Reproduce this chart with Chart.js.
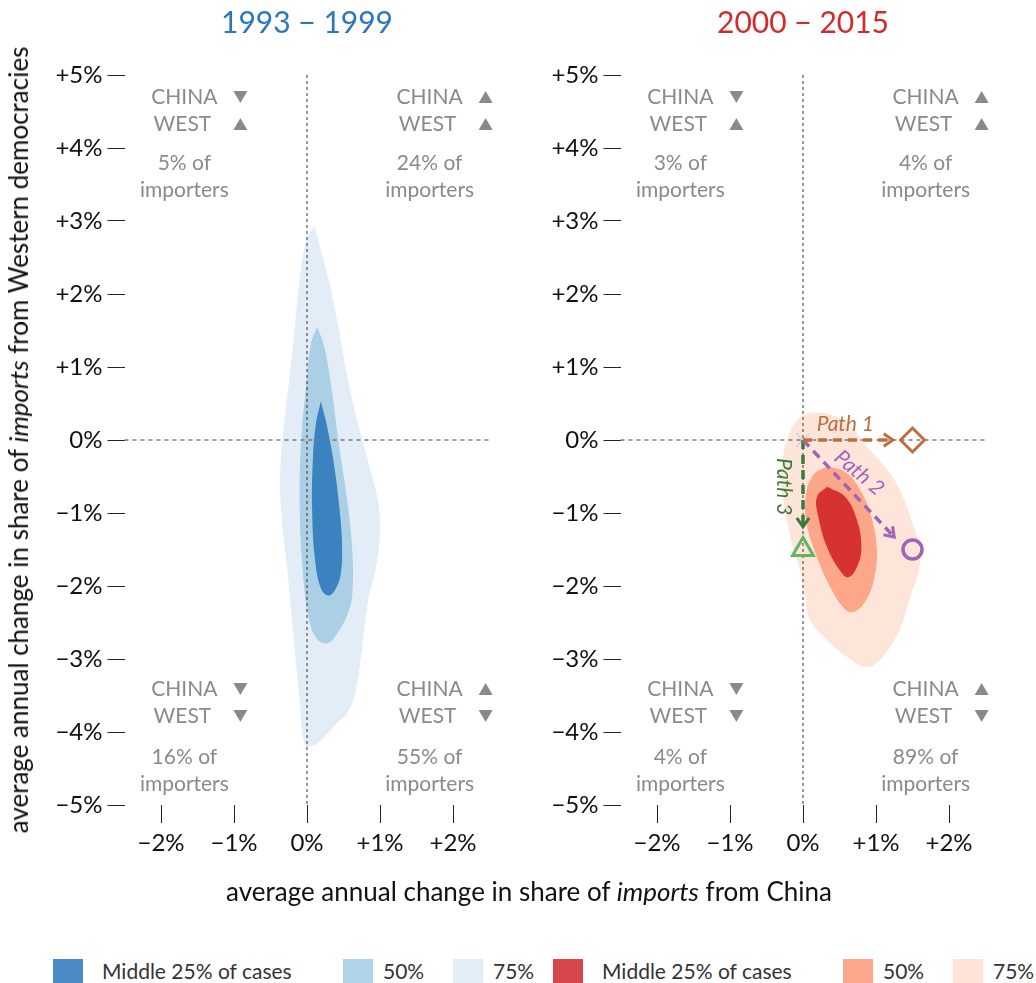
<!DOCTYPE html>
<html>
<head>
<meta charset="utf-8">
<script src="https://cdn.jsdelivr.net/npm/chart.js@4.4.1/dist/chart.umd.min.js"></script>
<style>
  body { margin: 0; background: #fff; font-family: Lato, sans-serif; }
  #wrap { position: relative; width: 1036px; height: 983px; overflow: hidden; background: #fff; }
  canvas { position: absolute; top: 0; }
  #chartLeft { left: 0; }
  #chartRight { left: 496px; }
  .ytitle { position: absolute; left: 18px; top: 440px; transform: translate(-50%, -50%) rotate(-90deg);
            white-space: nowrap; font-size: 26px; color: #111; }
  .xtitle { position: absolute; left: 529px; top: 891px; transform: translate(-50%, -50%);
            white-space: nowrap; font-size: 26px; color: #111; }
  .lg-box { position: absolute; top: 959px; width: 30px; height: 26px; }
  .lg-txt { position: absolute; top: 958px; font-size: 21px; line-height: 26px; color: #333; white-space: nowrap; }
</style>
</head>
<body>
<div id="wrap">
  <canvas id="chartLeft" width="540" height="880"></canvas>
  <canvas id="chartRight" width="540" height="880"></canvas>
  <div class="ytitle">average annual change in share of <i>imports</i> from Western democracies</div>
  <div class="xtitle">average annual change in share of <i>imports</i> from China</div>
  <div id="legend"></div>
</div>
<script>
// axes
const xTickValues = [-2, -1, 0, 1, 2];
const xTickLabels = ['−2%', '−1%', '0%', '+1%', '+2%'];
const yTickValues = [5, 4, 3, 2, 1, 0, -1, -2, -3, -4, -5];
const yTickLabels = ['+5%', '+4%', '+3%', '+2%', '+1%', '0%', '−1%', '−2%', '−3%', '−4%', '−5%'];

const panelTitles = ['1993 − 1999', '2000 − 2015'];

// density contours, [China change %, West change %]
const early75 = [[0.10, 2.93], [0.27, 2.30], [0.38, 1.81], [0.56, 0.84], [0.70, 0.21], [0.84, -0.30],
  [0.97, -0.82], [1.00, -1.23], [0.95, -1.71], [0.84, -2.19], [0.75, -2.88], [0.67, -3.42],
  [0.56, -3.73], [0.40, -3.89], [0.25, -4.05], [0.08, -4.19], [-0.03, -4.18], [-0.10, -3.56],
  [-0.18, -2.74], [-0.27, -1.78], [-0.36, -0.89], [-0.36, -0.27], [-0.29, 0.41], [-0.19, 1.32],
  [-0.10, 2.19], [-0.01, 2.74]];
const early50 = [[0.14, 1.55], [0.23, 1.30], [0.32, 0.82], [0.45, -0.15], [0.55, -0.82], [0.62, -1.51],
  [0.62, -2.12], [0.55, -2.40], [0.42, -2.64], [0.29, -2.78], [0.15, -2.74], [0.03, -2.47],
  [-0.07, -1.64], [-0.10, -0.64], [-0.07, 0.14], [-0.01, 0.75], [0.05, 1.30]];
const early25 = [[0.19, 0.53], [0.27, 0.21], [0.36, -0.27], [0.44, -0.89], [0.48, -1.44], [0.46, -1.85],
  [0.38, -2.06], [0.29, -2.13], [0.19, -2.03], [0.11, -1.64], [0.07, -0.96], [0.08, -0.27], [0.12, 0.21]];

const late75 = [[0.10, 0.38], [0.34, 0.36], [0.60, 0.23], [0.92, -0.14], [1.19, -0.45], [1.37, -0.78],
  [1.49, -1.12], [1.60, -1.47], [1.58, -1.82], [1.47, -2.15], [1.36, -2.51], [1.19, -2.84],
  [1.01, -3.05], [0.85, -3.11], [0.60, -2.97], [0.33, -2.74], [0.10, -2.47], [0.03, -2.15],
  [-0.04, -1.78], [-0.14, -1.47], [-0.22, -1.10], [-0.29, -0.68], [-0.29, -0.37], [-0.22, 0.00],
  [-0.08, 0.27]];
const late50 = [[0.33, -0.36], [0.58, -0.44], [0.78, -0.68], [0.92, -1.00], [1.01, -1.47], [0.97, -1.92],
  [0.84, -2.23], [0.68, -2.36], [0.55, -2.29], [0.37, -2.01], [0.19, -1.60], [0.05, -1.14],
  [0.04, -0.75], [0.14, -0.48]];
const late25 = [[0.33, -0.64], [0.58, -0.78], [0.74, -1.10], [0.80, -1.47], [0.74, -1.74], [0.62, -1.88],
  [0.50, -1.78], [0.33, -1.47], [0.21, -1.05], [0.19, -0.78]];

// quadrant shares: top-left, top-right, bottom-left, bottom-right
const earlyShares = ['5%', '24%', '16%', '55%'];
const lateShares = ['3%', '4%', '4%', '89%'];
const chinaDir = [-1, 1, -1, 1];
const westDir = [1, 1, -1, -1];

// adjustment paths (2000-2015 panel)
const path1 = [[0, 0], [1.23, 0]];
const path2 = [[0, 0], [1.25, -1.33]];
const path3 = [[0, 0], [0, -1.19]];
const path1End = [[1.5, 0]];
const path2End = [[1.5, -1.5]];
const path3End = [[0, -1.5]];
const pathOrigin = [[0, 0]];

const legendLabels = ['Middle 25% of cases', '50%', '75%', 'Middle 25% of cases', '50%', '75%'];
const legendColors = ['#4a8ac5', '#b2d4e8', '#e3edf7', '#d6464a', '#fca78b', '#fee3d8'];

const FONT = 'Lato, sans-serif';
const pts = arr => arr.map(p => ({x: p[0], y: p[1]}));

function contour(arr, color, order) {
    const d = pts(arr);
    d.push(d[0]);
    return {data: d, fill: 'shape', backgroundColor: color, borderColor: color, borderWidth: 0,
        pointRadius: 0, tension: 0.4, order: order};
}

function path(arr, color) {
    return {data: pts(arr), borderColor: color, borderWidth: 3.5, borderDash: [9, 6],
        pointRadius: 0, fill: false, tension: 0, arrow: true, order: 0};
}

function marker(arr, color, style, radius, width) {
    return {data: pts(arr), showLine: false, pointStyle: style, pointRadius: radius,
        pointBorderColor: color, pointBackgroundColor: 'transparent', pointBorderWidth: width,
        borderColor: color, order: 0};
}

function drawTri(ctx, x, y, dir) {
    ctx.beginPath();
    if (dir > 0) {
        ctx.moveTo(x - 7, y + 6); ctx.lineTo(x + 7, y + 6); ctx.lineTo(x, y - 6);
    } else {
        ctx.moveTo(x - 7, y - 6); ctx.lineTo(x + 7, y - 6); ctx.lineTo(x, y + 6);
    }
    ctx.closePath();
    ctx.fill();
}

const decor = {
    id: 'decor',
    afterDatasetDraw(chart, args) {
        if (args.index !== 2) return;
        // zero lines over the contours
        const {ctx, chartArea: a, scales} = chart;
        const x0 = scales.x.getPixelForValue(0);
        const y0 = scales.y.getPixelForValue(0);
        ctx.save();
        ctx.strokeStyle = '#7a7a7a';
        ctx.lineWidth = 1.5;
        ctx.setLineDash([4, 4]);
        ctx.beginPath(); ctx.moveTo(a.left, y0); ctx.lineTo(a.right, y0); ctx.stroke();
        ctx.strokeStyle = '#333';
        ctx.lineWidth = 1;
        ctx.setLineDash([3, 3]);
        ctx.beginPath(); ctx.moveTo(x0, a.top); ctx.lineTo(x0, a.bottom); ctx.stroke();
        ctx.restore();
    },
    afterDatasetsDraw(chart, args, opts) {
        const {ctx, scales} = chart;
        const sx = scales.x, sy = scales.y;

        // arrow heads at the ends of the paths
        chart.data.datasets.forEach((ds, i) => {
            if (!ds.arrow) return;
            const el = chart.getDatasetMeta(i).data;
            const p = el[el.length - 1], q = el[el.length - 2];
            const ang = Math.atan2(p.y - q.y, p.x - q.x);
            ctx.save();
            ctx.strokeStyle = ds.borderColor;
            ctx.lineWidth = 3;
            ctx.beginPath();
            ctx.moveTo(p.x - 11 * Math.cos(ang - 0.6), p.y - 11 * Math.sin(ang - 0.6));
            ctx.lineTo(p.x, p.y);
            ctx.lineTo(p.x - 11 * Math.cos(ang + 0.6), p.y - 11 * Math.sin(ang + 0.6));
            ctx.stroke();
            ctx.restore();
        });

        // quadrant notes
        ctx.save();
        ctx.font = '21px ' + FONT;
        ctx.fillStyle = '#8a8a8a';
        ctx.textAlign = 'center';
        ctx.textBaseline = 'middle';
        const cols = [-1.68, 1.68, -1.68, 1.68];
        const rows = [[4.70, 4.33, 3.79, 3.42], [4.70, 4.33, 3.79, 3.42],
            [-3.41, -3.78, -4.34, -4.71], [-3.41, -3.78, -4.34, -4.71]];
        opts.shares.forEach((s, k) => {
            const cx = sx.getPixelForValue(cols[k]);
            const r = rows[k].map(v => sy.getPixelForValue(v));
            ctx.fillText('CHINA', cx, r[0]);
            ctx.fillText('WEST', cx - 2, r[1]);
            ctx.fillText(s + ' of', cx, r[2]);
            ctx.fillText('importers', cx, r[3]);
            drawTri(ctx, cx + 56, r[0], chinaDir[k]);
            drawTri(ctx, cx + 56, r[1], westDir[k]);
        });
        ctx.restore();

        // path labels
        (opts.labels || []).forEach(l => {
            ctx.save();
            ctx.translate(sx.getPixelForValue(l.x), sy.getPixelForValue(l.y));
            ctx.rotate(l.rot * Math.PI / 180);
            ctx.font = 'italic 21px ' + FONT;
            ctx.fillStyle = l.color;
            ctx.textAlign = 'center';
            ctx.textBaseline = 'middle';
            ctx.fillText(l.text, 0, 0);
            ctx.restore();
        });
    }
};

function makeChart(id, title, titleColor, datasets, shares, labels) {
    return new Chart(document.getElementById(id), {
        type: 'line',
        data: {datasets: datasets},
        options: {
            responsive: false,
            animation: false,
            events: [],
            layout: {padding: {left: 0, right: 50.5, top: 0, bottom: 0}},
            plugins: {
                legend: {display: false},
                tooltip: {enabled: false},
                title: {
                    display: true, text: title, color: titleColor, fullSize: false,
                    font: {family: FONT, size: 30, weight: 'normal'},
                    padding: {top: 5, bottom: 34}
                },
                decor: {shares: shares, labels: labels}
            },
            scales: {
                x: {
                    type: 'linear', min: -2.5, max: 2.5,
                    afterBuildTicks: s => { s.ticks = xTickValues.map(v => ({value: v})); },
                    afterFit: s => { s.height = 75; },
                    ticks: {
                        callback: (v, i) => xTickLabels[i], autoSkip: false, maxRotation: 0,
                        font: {family: FONT, size: 24}, color: '#111', padding: 6
                    },
                    grid: {drawOnChartArea: false, drawTicks: true, tickLength: 18, tickColor: '#222', tickWidth: 1},
                    border: {display: false}
                },
                y: {
                    type: 'linear', min: -5, max: 5,
                    afterBuildTicks: s => { s.ticks = yTickValues.map(v => ({value: v})); },
                    afterFit: s => { s.width = 124.5; },
                    ticks: {
                        callback: (v, i) => yTickLabels[i], autoSkip: false,
                        font: {family: FONT, size: 24}, color: '#111', padding: 5
                    },
                    grid: {drawOnChartArea: false, drawTicks: true, tickLength: 17, tickColor: '#222', tickWidth: 1},
                    border: {display: false}
                }
            }
        },
        plugins: [decor]
    });
}

makeChart('chartLeft', panelTitles[0], '#2a78bb', [
    contour(early75, '#e3edf7', 30),
    contour(early50, '#abd0e5', 20),
    contour(early25, '#3b83c0', 10)
], earlyShares, []);

makeChart('chartRight', panelTitles[1], '#d42a2a', [
    contour(late75, '#fee5da', 30),
    contour(late50, '#fca68a', 20),
    contour(late25, '#d63232', 10),
    path(path1, '#bb6e3e'),
    path(path2, '#a264b6'),
    path(path3, '#3c7a3c'),
    marker(path1End, '#bb6e3e', 'rectRot', 12, 3),
    marker(path2End, '#a264b6', 'circle', 9.5, 3.5),
    marker(path3End, '#5cb85c', 'triangle', 12, 3),
    marker(pathOrigin, '#c9d5e3', 'crossRot', 9, 1.5)
], lateShares, [
    {text: 'Path 1', x: 0.58, y: 0.21, rot: 0, color: '#bb6e3e'},
    {text: 'Path 2', x: 0.77, y: -0.45, rot: 40, color: '#a264b6'},
    {text: 'Path 3', x: -0.27, y: -0.64, rot: 90, color: '#3c7a3c'}
]);

// legend
const legendBoxX = [53, 343, 453, 553, 843, 953];
const legendTextX = [102, 383, 493, 602, 883, 993];
const legend = document.getElementById('legend');
legendLabels.forEach((lab, i) => {
    const b = document.createElement('div');
    b.className = 'lg-box';
    b.style.left = legendBoxX[i] + 'px';
    b.style.background = legendColors[i];
    legend.appendChild(b);
    const t = document.createElement('div');
    t.className = 'lg-txt';
    t.style.left = legendTextX[i] + 'px';
    t.textContent = lab;
    legend.appendChild(t);
});
</script>
</body>
</html>
